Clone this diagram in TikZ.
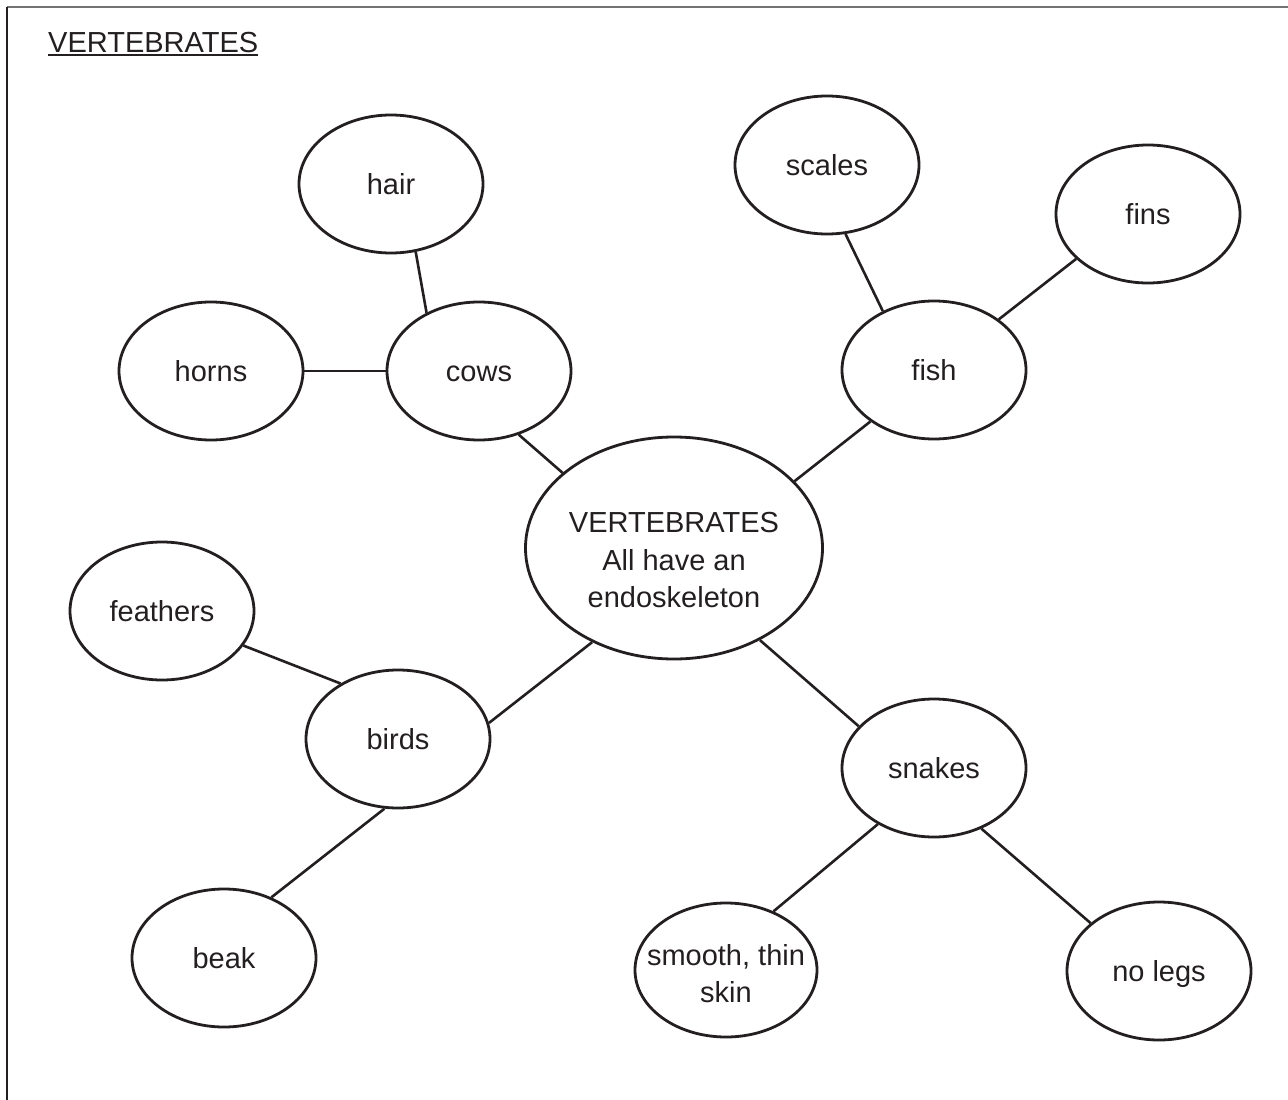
\documentclass[tikz,border=0pt]{standalone}
\usepackage{fontspec}
\setmainfont{Liberation Sans}
\usetikzlibrary{shapes.geometric}
\definecolor{ink}{HTML}{231F20}
\begin{document}
\begin{tikzpicture}[x=1pt,y=-1pt,
  bubble/.style={ellipse, draw=ink, line width=2.8pt, inner sep=0pt, text=ink,
    font=\fontsize{29}{37.5}\selectfont, minimum width=184pt, minimum height=138pt},
  leaf/.style={bubble, text height=21pt, text depth=0pt},
  link/.style={draw=ink, line width=2.6pt},
  heading/.style={anchor=base west, inner sep=0pt, text=ink, font=\fontsize{29}{34}\selectfont}]
\useasboundingbox (0,0) rectangle (1288,1100);

% page frame
\coordinate (corner) at (6.5,7.3);
\draw[black!55, line width=2pt] (corner) -- (1288,7.3);
\draw[ink, line width=2pt] (corner) -- (6.5,1100);

% heading
\node[heading] (title) at (48,52) {VERTEBRATES};
\draw[ink, line width=2.2pt] ([yshift=-2.6pt]title.base west) -- ([yshift=-2.6pt]title.base east);

% central idea
\node[bubble, align=center, minimum width=297pt, minimum height=222pt] (center) at (674,548)
  {\rule{0pt}{45pt}VERTEBRATES\\All have an\\endoskeleton};

% groups
\node[leaf] (cows)   at (479,371) {cows};
\node[leaf] (fish)   at (934,370) {fish};
\node[leaf] (birds)  at (398,739) {birds};
\node[leaf] (snakes) at (934,768) {snakes};

% features
\node[leaf] (hair)     at (391,184) {hair};
\node[leaf] (horns)    at (211,371) {horns};
\node[leaf] (scales)   at (827,165) {scales};
\node[leaf] (fins)     at (1148,214) {fins};
\node[leaf] (feathers) at (162,611) {feathers};
\node[leaf] (beak)     at (224,958) {beak};
\node[bubble, align=center, minimum width=182pt, minimum height=134pt, inner xsep=-16pt]
  (skin) at (726,970) {\rule{0pt}{28pt}smooth, thin\\skin};
\node[leaf] (nolegs)   at (1159,971) {no legs};

% links
\draw[link] (hair.-70) -- (cows.132);
\draw[link] (horns.east) -- (cows.west);
\draw[link] (cows.-58) -- (center.146);
\draw[link] (scales.-75) -- (fish.131);
\draw[link] (fins.-148) -- (fish.38);
\draw[link] (fish.-141) -- (center.29);
\draw[link] (feathers.-23) -- (birds.136);
\draw[link] (birds.10) -- (center.-131);
\draw[link] (birds.-101) -- (beak.52);
\draw[link] (center.-47) -- (snakes.151);
\draw[link] (snakes.-135) -- (skin.51);
\draw[link] (snakes.-52) -- (nolegs.145);
\end{tikzpicture}
\end{document}
